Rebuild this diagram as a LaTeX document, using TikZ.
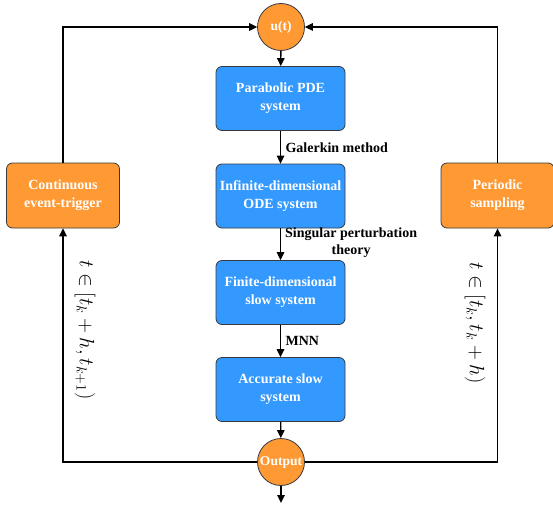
\documentclass[tikz,border=0pt]{standalone}
\usepackage{fontspec}
\setmainfont{Liberation Serif}
\usetikzlibrary{arrows.meta}
\definecolor{bl}{HTML}{3399FF}
\definecolor{og}{HTML}{FF9933}
\definecolor{bd}{HTML}{36393D}
\begin{document}
\begin{tikzpicture}[x=1pt,y=-1pt,
  box/.style={draw=bd,line width=0.8pt,rounded corners=6pt,fill=bl,text=white,font=\fontsize{14}{18}\selectfont\bfseries,align=center,minimum width=129pt,minimum height=64pt,inner sep=1pt},
  obox/.style={box,fill=og,minimum width=113pt,minimum height=65pt},
  circ/.style={circle,draw=bd,line width=0.8pt,fill=og,text=white,font=\fontsize{13.5}{16}\selectfont\bfseries,minimum size=47pt,inner sep=0pt},
  lab/.style={font=\fontsize{14}{17}\selectfont\bfseries,align=center},
  arr/.style={-{Triangle[length=8pt,width=7.5pt]},line width=1.4pt,black}]
\useasboundingbox (0,0) rectangle (553,508);
\node[circ] (u) at (281,27) {u(t)};
\node[box] (p) at (280.5,98.5) {Parabolic PDE\\system};
\node[box] (i) at (280.5,196) {Infinite-dimensional\\ODE system};
\node[box] (f) at (280.5,292.5) {Finite-dimensional\\slow system};
\node[box] (a) at (280.5,389.5) {Accurate slow\\system};
\node[circ] (o) at (281,462) {Output};
\coordinate (end) at (281,503);
\node[obox] (c) at (63,195.5) {Continuous\\event-trigger};
\node[obox] (s) at (497.5,195.5) {Periodic\\sampling};
\draw[arr] (u) -- (p);
\draw[arr] (p) -- node[lab,anchor=west,xshift=1pt]{Galerkin method} (i);
\draw[arr] (i) -- (f);
\node[lab,anchor=north west,align=center,inner sep=1pt] (sp) at (284,227) {Singular perturbation\\theory};
\draw[arr] (f) -- node[lab,anchor=west,xshift=1pt]{MNN} (a);
\draw[arr] (a) -- (o);
\draw[arr] (o) -- (end);
\draw[arr] (o.west) -| (c.south);
\draw[arr] (c.north) |- (u.west);
\draw[arr] (o.east) -| (s.south);
\draw[arr] (s.north) |- (u.east);
\node[rotate=-90,font=\fontsize{19.5}{22}\selectfont] (l1) at (85,330) {$t\in[t_k+h,t_{k+1})$};
\node[rotate=-90,font=\fontsize{19.5}{22}\selectfont] (l2) at (475,323) {$t\in[t_k,t_k+h)$};
\end{tikzpicture}
\end{document}
